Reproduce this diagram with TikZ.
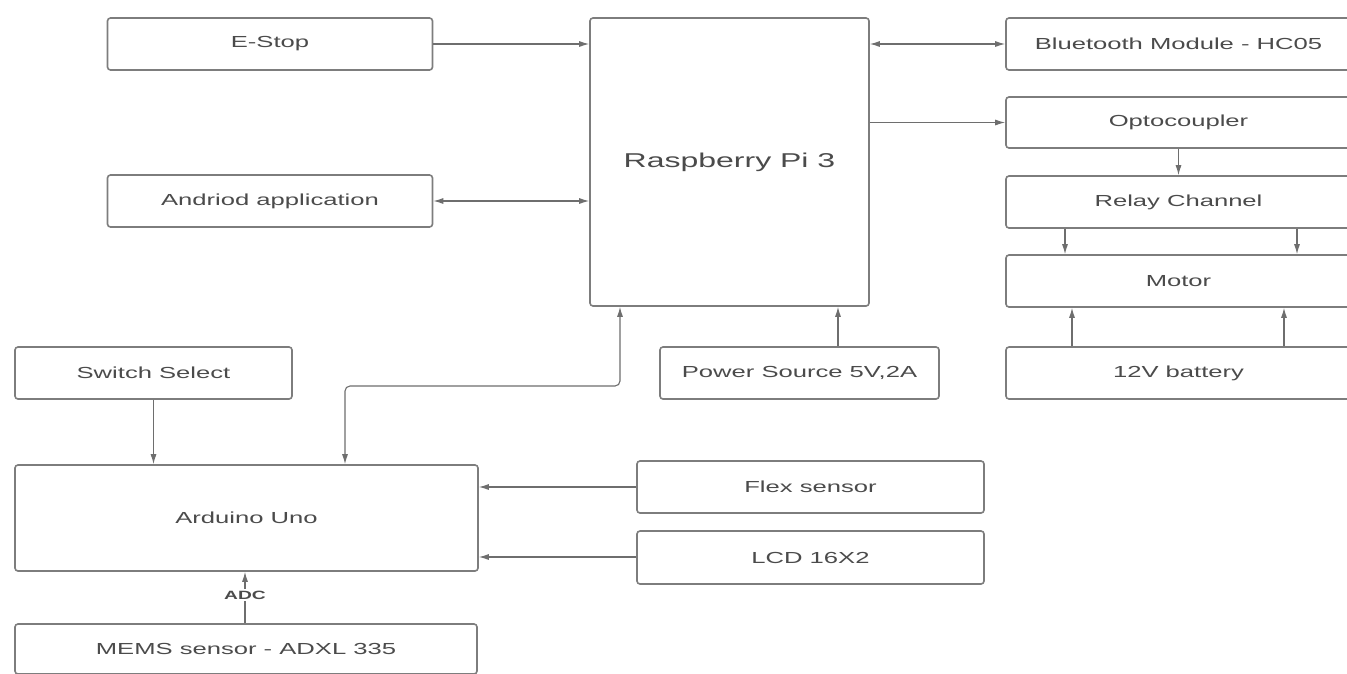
\documentclass[tikz,border=0pt]{standalone}
\usepackage{fontspec}
\setmainfont{Liberation Sans}[FakeStretch=1.6]
\usetikzlibrary{arrows.meta}
\definecolor{boxgray}{RGB}{125,125,125}
\definecolor{txtgray}{RGB}{75,75,75}
\definecolor{lngray}{RGB}{110,110,110}
\begin{document}
\begin{tikzpicture}[x=1pt,y=-1pt,
  blk/.style={draw=boxgray, line width=1.6pt, rounded corners=3pt, fill=white,
    text=txtgray, font=\fontsize{16}{19}\selectfont, inner sep=0pt},
  arr/.style={draw=lngray, line width=1.1pt, -{Latex[length=10pt,width=6pt]}},
  darr/.style={draw=lngray, line width=1.1pt, {Latex[length=10pt,width=6pt]}-{Latex[length=10pt,width=6pt]}}]
\useasboundingbox (0,0) rectangle (1347,673);
\fill[white] (0,0) rectangle (1347,673);

\node[blk, minimum width=325pt, minimum height=52pt] (estop) at (270,44) {E-Stop};
\node[blk, minimum width=325pt, minimum height=52pt] (android) at (270,201) {Andriod application};
\node[blk, minimum width=279pt, minimum height=288pt, font=\fontsize{20}{24}\selectfont] (rpi) at (729.5,162) {Raspberry Pi 3};
\node[blk, minimum width=345pt, minimum height=52pt] (bt) at (1178.5,44) {Bluetooth Module - HC05};
\node[blk, minimum width=345pt, minimum height=51pt] (opto) at (1178.5,122.5) {Optocoupler};
\node[blk, minimum width=345pt, minimum height=52pt] (relay) at (1178.5,202) {Relay Channel};
\node[blk, minimum width=345pt, minimum height=52pt] (motor) at (1178.5,281) {Motor};
\node[blk, minimum width=345pt, minimum height=52pt] (battery) at (1178.5,373) {12V battery};
\node[blk, minimum width=279pt, minimum height=52pt] (power) at (799.5,373) {Power Source 5V,2A};
\node[blk, minimum width=277pt, minimum height=52pt] (switch) at (153.5,373) {Switch Select};
\node[blk, minimum width=463pt, minimum height=106pt] (arduino) at (246.5,518) {Arduino Uno};
\node[blk, minimum width=347pt, minimum height=52pt] (flex) at (810.5,487) {Flex sensor};
\node[blk, minimum width=347pt, minimum height=53pt] (lcd) at (810.5,557.5) {LCD 16X2};
\node[blk, minimum width=462pt, minimum height=50pt] (mems) at (246,649) {MEMS sensor - ADXL 335};

% connectors
\draw[arr] (estop.east) -- (estop.east -| rpi.west);
\draw[darr] (android.east) -- (android.east -| rpi.west);
\draw[darr] (rpi.east |- bt.west) -- (bt.west);
\draw[arr] (rpi.east |- opto.west) -- (opto.west);
\draw[arr] (opto.south) -- (relay.north);
\coordinate (r1) at (1065,0);
\coordinate (r2) at (1297,0);
\draw[arr] (r1 |- relay.south) -- (r1 |- motor.north);
\draw[arr] (r2 |- relay.south) -- (r2 |- motor.north);
\coordinate (b1) at (1072,0);
\coordinate (b2) at (1284,0);
\draw[arr] (b1 |- battery.north) -- (b1 |- motor.south);
\draw[arr] (b2 |- battery.north) -- (b2 |- motor.south);
\coordinate (p1) at (838,0);
\draw[arr] (p1 |- power.north) -- (p1 |- rpi.south);
\coordinate (a1) at (620,0);
\coordinate (a2) at (345,0);
\coordinate (bend) at (620,386);
\draw[darr, rounded corners=5pt] (a1 |- rpi.south) -- (bend) -- (a2 |- bend) -- (a2 |- arduino.north);
\draw[arr] (switch.south) -- (switch.south |- arduino.north);
\coordinate (f1) at (0,487);
\coordinate (l1) at (0,557);
\draw[arr] (flex.west |- f1) -- (arduino.east |- f1);
\draw[arr] (lcd.west |- l1) -- (arduino.east |- l1);
\coordinate (m1) at (245,0);
\draw[arr] (m1 |- mems.north) -- node[fill=white, inner sep=1.5pt, text=txtgray, font=\bfseries\fontsize{12}{14}\selectfont, pos=0.55] {ADC} (m1 |- arduino.south);
\end{tikzpicture}
\end{document}
